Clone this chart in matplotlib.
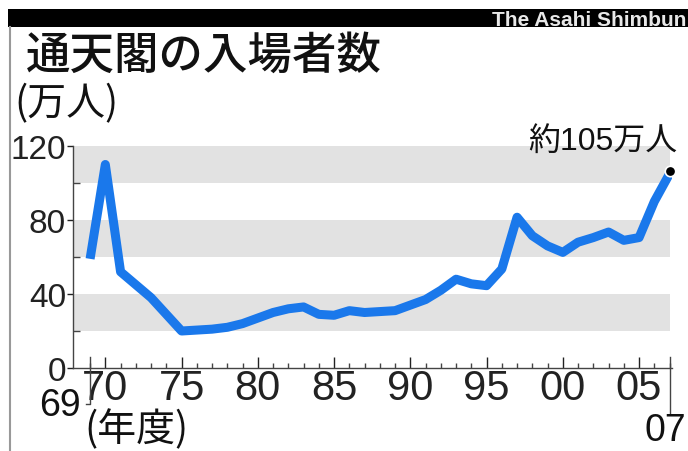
import numpy as np
import matplotlib.pyplot as plt
from matplotlib.lines import Line2D
from matplotlib.patches import Rectangle

# data (10k visitors per fiscal year)
years = np.arange(1969, 2008)
visitors = [59, 110, 52, 45, 38, 29, 20, 20.5, 21, 22,
            24, 27, 30, 32, 33, 29, 28.5, 31, 30, 30.5,
            31, 34, 37, 42, 48, 45.5, 44.5, 53.5, 81.5, 71.5,
            66, 62.5, 68, 70.5, 73.5, 69, 70.5, 90, 105]
bands = [(20, 40), (60, 80), (100, 120)]
yticks = [0, 40, 80, 120]
xticks = [1970, 1975, 1980, 1985, 1990, 1995, 2000, 2005]
xticklabels = ["70", "75", "80", "85", "90", "95", "00", "05"]

W, H = 688, 452
NUM = ['Liberation Sans', 'DejaVu Sans']
JP = ['Noto Sans CJK JP', 'DejaVu Sans']
MIX = ['Liberation Sans', 'Noto Sans CJK JP', 'DejaVu Sans']
BLUE = '#1a78eb'


def fx(px):
    return px / W


def fy(py):
    return 1 - py / H


fig = plt.figure(figsize=(W / 100, H / 100), dpi=100)
fig.patch.set_facecolor('white')

# axes box: spine at x=73, x-axis at y=369, 120 at y=147
ax = fig.add_axes([fx(73), fy(369), (672 - 73) / W, (369 - 147) / H])
ax.set_xlim(1967.88, 2007.16)
ax.set_ylim(0, 120)

for lo, hi in bands:
    ax.fill_between([1967.88, 2007.05], lo, hi, color='#e2e2e2', lw=0, zorder=0)

ax.plot(years, visitors, color=BLUE, lw=6.5, solid_joinstyle='round',
        solid_capstyle='butt', zorder=3)
ax.plot(years[-1], visitors[-1] + 1.5, 'o', color='black', ms=7.5,
        mec='white', mew=1.2, zorder=4, clip_on=False)

for s in ['top', 'right']:
    ax.spines[s].set_visible(False)
for s in ['left', 'bottom']:
    ax.spines[s].set_color('#444444')
    ax.spines[s].set_linewidth(1.0)
ax.patch.set_alpha(0)

ax.set_yticks(yticks)
ax.set_yticklabels([str(v) for v in yticks], family=NUM, fontsize=24)
ax.set_yticks([20, 60, 100], minor=True)
ax.tick_params(axis='y', which='major', direction='out', length=4, width=1,
               pad=1, colors='#222222')
ax.tick_params(axis='y', which='minor', direction='in', length=5, width=1,
               color='#444444')

ax.set_xticks(xticks)
ax.set_xticklabels(xticklabels, family=NUM, fontsize=30)
ax.set_xticks(np.arange(1969, 2008), minor=True)
ax.tick_params(axis='x', which='major', direction='in', length=8, width=1,
               pad=0, colors='#222222')
ax.tick_params(axis='x', which='minor', direction='in', length=3.5, width=1,
               color='#444444')

# long bracket ticks for the first and last fiscal year
ax.plot([1968.7, 1969, 1969], [-19.5, -19.5, 6], color='#444444', lw=1,
        clip_on=False)
ax.plot([2007, 2007], [6, -25], color='#444444', lw=1, clip_on=False)

# frame: black band on top and a grey rule at left
fig.add_artist(Rectangle((fx(8), fy(28)), 1 - fx(8), 18 / H,
                         transform=fig.transFigure, color='black', lw=0))
fig.add_artist(Line2D([fx(9.5), fx(9.5)], [0, fy(28)],
                      transform=fig.transFigure, color='#999999', lw=1.5))

fig.text(fx(686), fy(20), 'The Asahi Shimbun', color='#e8e8e8',
         fontsize=15, fontweight='bold', family=['Liberation Sans', 'DejaVu Sans'],
         ha='right', va='center')
fig.text(fx(26), fy(56), '通天閣の入場者数', family=JP, fontsize=32,
         fontweight='medium', ha='left', va='center', color='#111111')
fig.text(fx(14), fy(104), '(万人)', family=JP, fontsize=28,
         ha='left', va='center', color='#111111')
fig.text(fx(677), fy(142), '約105万人', family=MIX, fontsize=23,
         ha='right', va='center', color='#111111')
fig.text(fx(84), fy(430), '(年度)', family=JP, fontsize=28,
         ha='left', va='center', color='#111111')
fig.text(fx(81), fy(406), '69', family=NUM, fontsize=27,
         ha='right', va='center', color='#111111')
fig.text(fx(665), fy(431), '07', family=NUM, fontsize=27,
         ha='center', va='center', color='#111111')

fig.savefig('out.png', dpi=100)
